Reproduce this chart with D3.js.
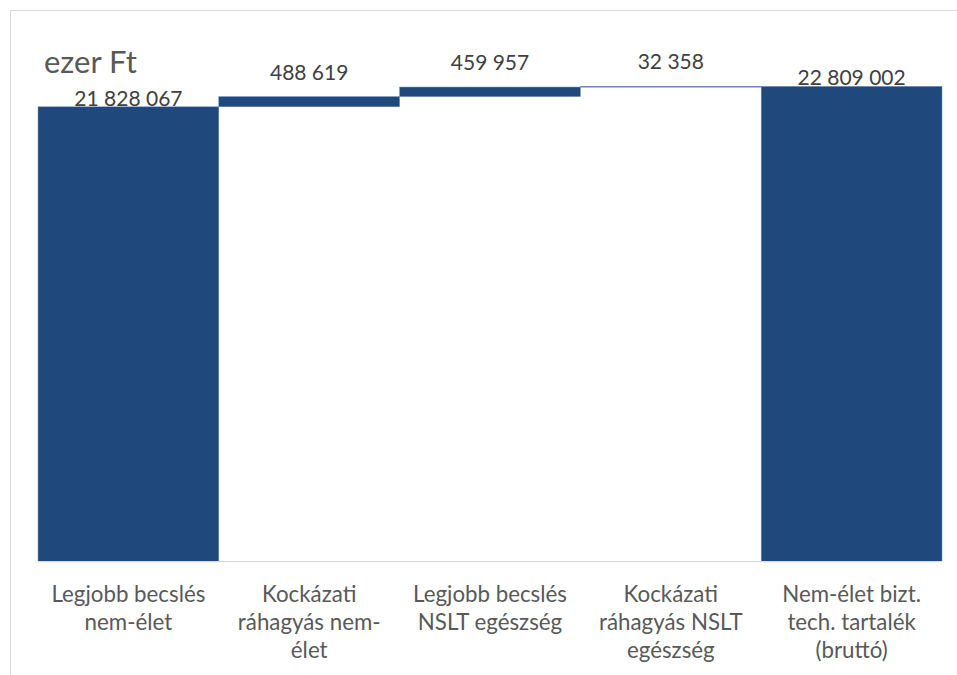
<!DOCTYPE html>
<html>
<head>
<meta charset="utf-8">
<script src="https://cdn.jsdelivr.net/npm/d3@7"></script>
<style>
  body { margin: 0; background: #fff; }
  text { font-family: Lato, "Noto Sans", sans-serif; }
</style>
</head>
<body>
<div id="chart"></div>
<script>
// data (ezer Ft)
var categories = ["Legjobb becslés nem-élet", "Kockázati ráhagyás nem-élet",
  "Legjobb becslés NSLT egészség", "Kockázati ráhagyás NSLT egészség",
  "Nem-élet bizt. tech. tartalék (bruttó)"];
var tickLines = [
  ["Legjobb becslés", "nem-élet"],
  ["Kockázati", "ráhagyás nem-", "élet"],
  ["Legjobb becslés", "NSLT egészség"],
  ["Kockázati", "ráhagyás NSLT", "egészség"],
  ["Nem-élet bizt.", "tech. tartalék", "(bruttó)"]
];
var values = [21828067, 488619, 459957, 32358, 22809002];
var kinds = ["total", "delta", "delta", "delta", "total"];
var unitLabel = "ezer Ft";

var width = 957, height = 675;
var left = 38, right = 942, base = 561.7;

// build waterfall steps
var steps = [];
var running = 0;
for (var i = 0; i < values.length; i++) {
  var s = { cat: categories[i], value: values[i], kind: kinds[i] };
  if (kinds[i] === "total") {
    s.y0 = 0; s.y1 = values[i]; running = values[i];
  } else {
    s.y0 = running; s.y1 = running + values[i]; running = s.y1;
  }
  steps.push(s);
}

var fmt = function (v) { return d3.format(",")(v).replace(/,/g, " "); };

var svg = d3.select("#chart").append("svg")
  .attr("width", width)
  .attr("height", height);

// chart frame
svg.append("rect")
  .attr("x", 10.5).attr("y", 10.5)
  .attr("width", width + 10).attr("height", height + 10)
  .style("fill", "none").style("stroke", "#d9d9d9").style("stroke-width", 1);

var x = d3.scaleBand().domain(categories).range([left, right]).padding(0);
var y = d3.scaleLinear().domain([0, 25000000]).range([base, base - 25 * 20.84]);

svg.selectAll("rect.bar").data(steps)
  .enter().append("rect")
  .attr("class", "bar")
  .attr("x", function (d) { return x(d.cat); })
  .attr("width", x.bandwidth())
  .attr("y", function (d) { return y(d.y1); })
  .attr("height", function (d) { return Math.max(y(d.y0) - y(d.y1), 0.8); })
  .style("fill", "#1f497d")
  .style("stroke", "#6f8fb8")
  .style("stroke-width", 0.5);

// axis line
svg.append("line")
  .attr("x1", left).attr("x2", right)
  .attr("y1", base).attr("y2", base)
  .style("stroke", "#d9d9d9").style("stroke-width", 1.2);

// value labels
svg.selectAll("text.val").data(steps)
  .enter().append("text")
  .attr("class", "val")
  .attr("x", function (d) { return x(d.cat) + x.bandwidth() / 2; })
  .attr("y", function (d) { return d.kind === "total" ? y(d.y1) - 1 : y(d.y1) - 17; })
  .attr("text-anchor", "middle")
  .style("font-size", "21px")
  .style("fill", "#404040")
  .text(function (d) { return fmt(d.value); });

// category labels
var ticks = svg.selectAll("text.cat").data(categories)
  .enter().append("text")
  .attr("class", "cat")
  .attr("text-anchor", "middle")
  .style("font-size", "22.3px")
  .style("fill", "#595959")
  .attr("transform", function (d) { return "translate(" + (x(d) + x.bandwidth() / 2) + ",601.7)"; });
ticks.selectAll("tspan").data(function (d, i) { return tickLines[i]; })
  .enter().append("tspan")
  .attr("x", 0)
  .attr("y", function (d, j) { return j * 28.3; })
  .text(function (d) { return d; });

// unit title
svg.append("text")
  .attr("x", 44).attr("y", 73)
  .style("font-size", "31px")
  .style("fill", "#595959")
  .text(unitLabel);
</script>
</body>
</html>
